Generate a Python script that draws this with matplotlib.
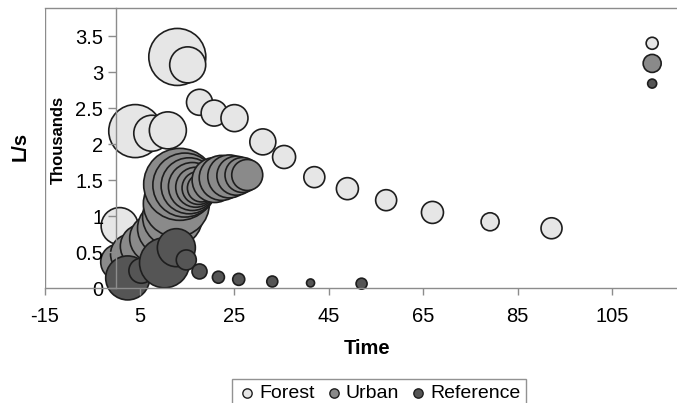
import numpy as np
import matplotlib
matplotlib.use('Agg')
import matplotlib.pyplot as plt

plt.rcParams['font.family'] = ['Liberation Sans', 'DejaVu Sans']
plt.rcParams['axes.unicode_minus'] = False

# time, flow (thousands L/s), bubble size
forest_t = [0.8, 4.1, 7.6, 11.0, 13.0, 15.2, 17.7, 20.8, 25.1, 31.1, 35.6, 42.0, 49.0, 57.2, 67.0, 79.2, 92.2, 113.5]
forest_q = [0.86, 2.18, 2.15, 2.19, 3.21, 3.10, 2.58, 2.43, 2.36, 2.03, 1.82, 1.54, 1.38, 1.22, 1.05, 0.92, 0.83, 3.40]
forest_b = [37, 53, 36, 37, 57, 36, 26, 26, 27, 26, 23, 21, 22, 21, 22, 18, 21, 12]

urban_t = [0.6, 3.1, 5.6, 8.0, 10.3, 12.0, 12.8, 13.5, 14.6, 15.5, 16.2, 16.9, 17.5, 18.1,
           20.9, 22.4, 24.0, 25.5, 26.8, 27.8, 113.5]
urban_q = [0.36, 0.47, 0.58, 0.69, 0.83, 0.99, 1.17, 1.44, 1.43, 1.42, 1.41, 1.40, 1.39, 1.39,
           1.50, 1.53, 1.55, 1.56, 1.57, 1.57, 3.12]
urban_b = [36, 40, 44, 48, 54, 60, 66, 72, 64, 56, 48, 40, 33, 28,
           45, 45, 43, 39, 35, 31, 18]

ref_t = [2.5, 5.4, 10.3, 12.8, 14.9, 17.7, 21.7, 26.0, 33.1, 41.2, 52.0, 113.5]
ref_q = [0.14, 0.24, 0.35, 0.56, 0.39, 0.23, 0.15, 0.12, 0.09, 0.07, 0.06, 2.84]
ref_b = [44, 25, 50, 38, 20, 15, 12, 12, 11, 8, 11, 9]

x_ticks = [-15, 5, 25, 45, 65, 85, 105]
y_ticks = [0, 0.5, 1, 1.5, 2, 2.5, 3, 3.5]
y_labels = ['0', '0.5', '1', '1.5', '2', '2.5', '3', '3.5']

W, H = 677, 403
fig = plt.figure(figsize=(W / 100, H / 100), dpi=100)
ax = fig.add_axes([45 / W, 1 - 288 / H, 661.5 / W, 280 / H])
ax.set_xlim(-15, 125)
ax.set_ylim(0, 3.89)

edge = '#1e1e1e'


def bubbles(t, q, b, color, label):
    # drawn in data order, later bubbles on top
    s = (np.array(b) * 0.72) ** 2
    ax.scatter(t, q, s=s, c=color, edgecolors=edge, linewidths=1.2, label=label, clip_on=False)


bubbles(forest_t, forest_q, forest_b, '#e6e6e6', 'Forest')
bubbles(urban_t, urban_q, urban_b, '#8a8a8a', 'Urban')
bubbles(ref_t, ref_q, ref_b, '#555555', 'Reference')

grey = '#8c8c8c'
ax.spines['left'].set_position(('data', 0))
for sp in ax.spines.values():
    sp.set_color(grey)
    sp.set_linewidth(1.0)
ax.axvline(-15, color=grey, lw=1.0)

ax.set_xticks(x_ticks)
ax.set_yticks(y_ticks)
ax.set_yticklabels(y_labels)
ax.tick_params(axis='x', length=5, width=1, color=grey, pad=9, labelsize=14.5)
ax.tick_params(axis='y', length=6, width=1, color=grey, pad=3, labelsize=14.5)

fig.text(367 / W, 1 - 348 / H, 'Time', ha='center', va='center', fontsize=14.5, fontweight='bold')
fig.text(20 / W, 1 - 146 / H, 'L/s', ha='center', va='center', rotation=90, fontsize=14.5, fontweight='bold')
fig.text(58 / W, 1 - 140 / H, 'Thousands', ha='center', va='center', rotation=90, fontsize=12, fontweight='bold')

leg = ax.legend(loc='upper left', bbox_to_anchor=(222 / W, 1 - 369 / H), bbox_transform=fig.transFigure,
                ncol=3, frameon=True, fancybox=False, fontsize=14, markerscale=1,
                handletextpad=0.1, columnspacing=0.5, borderpad=0.3, handlelength=1.0)
leg.get_frame().set_edgecolor('#777777')
leg.get_frame().set_linewidth(1.0)
for h in leg.legend_handles:
    h.set_sizes([45])
    h.set_linewidth(1.0)

fig.savefig('out.png', dpi=100)
